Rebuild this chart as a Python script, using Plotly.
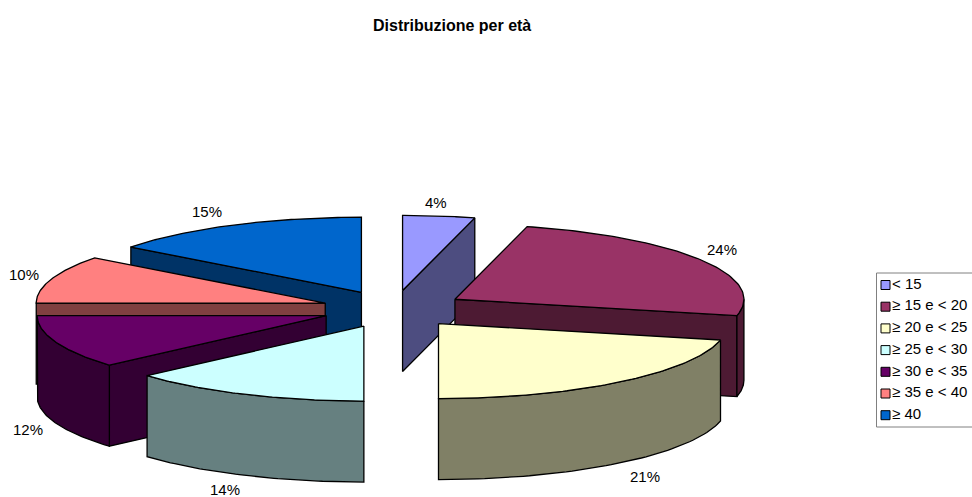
import numpy as np
import plotly.graph_objects as go

TITLE = "Distribuzione per età"
categories = ["< 15", "≥ 15 e < 20", "≥ 20 e < 25", "≥ 25 e < 30", "≥ 30 e < 35", "≥ 35 e < 40", "≥ 40"]
shares = [4.02, 24.49, 21.49, 13.5, 11.5, 10.3, 14.7]
top_colors = ["#9999FF", "#993366", "#FFFFCC", "#CCFFFF", "#660066", "#FF8080", "#0066CC"]
wall_colors = ["#4D4D80", "#4D1A33", "#808066", "#668080", "#330033", "#804040", "#003366"]

# Projection of the tilted, exploded pie (page pixels)
CX, CY = 393.5, 309
RX, RY = 289, 75
DEPTH = 81
EXPLODE = 72
DRAW_ORDER = [0, 1, 2, 6, 5, 4, 3]
LABEL_XY = [(436, 202), (722, 249), (645, 476), (225, 489), (28, 429), (24, 274), (207, 211)]

fig = go.Figure()
ends = np.cumsum(shares) / sum(shares) * 360.0
starts = np.concatenate([[0.0], ends[:-1]])


def poly(xs, ys, color):
    fig.add_trace(go.Scatter(
        x=list(xs) + [xs[0]], y=list(ys) + [ys[0]], mode="lines", fill="toself",
        fillcolor=color, line=dict(color="black", width=1.3, shape="linear"),
        hoverinfo="skip", showlegend=False))


for i in DRAW_ORDER:
    a, b = starts[i], ends[i]
    mid = np.radians((a + b) / 2)
    ax = CX + EXPLODE * np.sin(mid)
    ay = CY - EXPLODE * RY / RX * np.cos(mid)
    ra, rb = np.radians(a), np.radians(b)
    pa = (ax + RX * np.sin(ra), ay - RY * np.cos(ra))
    pb = (ax + RX * np.sin(rb), ay - RY * np.cos(rb))
    # radial walls
    if np.sin(ra) < -1e-6:
        poly([ax, pa[0], pa[0], ax], [ay, pa[1], pa[1] + DEPTH, ay + DEPTH], wall_colors[i])
    if np.sin(rb) > 1e-6:
        poly([ax, pb[0], pb[0], ax], [ay, pb[1], pb[1] + DEPTH, ay + DEPTH], wall_colors[i])
    # outer wall (front-facing part)
    lo, hi = max(a, 90.0), min(b, 270.0)
    if hi > lo:
        t = np.radians(np.linspace(lo, hi, 60))
        x = ax + RX * np.sin(t)
        y = ay - RY * np.cos(t)
        poly(list(x) + list(x[::-1]), list(y) + list((y + DEPTH)[::-1]), wall_colors[i])
    # top face
    t = np.radians(np.linspace(a, b, 80))
    poly([ax] + list(ax + RX * np.sin(t)), [ay] + list(ay - RY * np.cos(t)), top_colors[i])

# percentage labels
for s, (lx, ly) in zip(shares, LABEL_XY):
    fig.add_annotation(x=lx, y=ly, xref="x", yref="y", text=f"{s:.0f}%", showarrow=False,
                       font=dict(family="Liberation Sans, Arial", size=15, color="black"))

# legend, kept next to the chart like the original
LEG_X, LEG_Y0, LEG_DY = 885.5, 285, 21.7
LEG_TEXT_X = 892
rows = [LEG_Y0 + k * LEG_DY for k in range(len(categories))]
fig.add_shape(type="rect", x0=876.5, x1=990, y0=273, y1=427, xref="x", yref="y",
              line=dict(color="#808080", width=1), fillcolor="white", layer="below")
fig.add_trace(go.Scatter(
    x=[LEG_X] * len(categories), y=rows, mode="markers",
    marker=dict(symbol="square", size=9, color=top_colors, line=dict(color="black", width=1)),
    hoverinfo="skip", showlegend=False, cliponaxis=False))
fig.add_trace(go.Scatter(
    x=[LEG_TEXT_X] * len(categories), y=rows, mode="text", text=categories, textposition="middle right",
    textfont=dict(family="Liberation Sans, Arial", size=15, color="black"),
    hoverinfo="skip", showlegend=False, cliponaxis=False))

fig.update_layout(
    width=972, height=497, margin=dict(l=0, r=0, t=0, b=0), autosize=False,
    paper_bgcolor="white", plot_bgcolor="white", showlegend=False,
    xaxis=dict(range=[0, 972], visible=False, fixedrange=True),
    yaxis=dict(range=[497, 0], visible=False, fixedrange=True),
)
fig.add_annotation(x=452, y=25, xref="x", yref="y", text=f"<b>{TITLE}</b>", showarrow=False,
                   font=dict(family="Liberation Sans, Arial", size=16, color="black"))
fig.write_html("out.html", config={"displayModeBar": False},
               post_script="document.body.style.margin='0';document.body.style.overflow='hidden';")
